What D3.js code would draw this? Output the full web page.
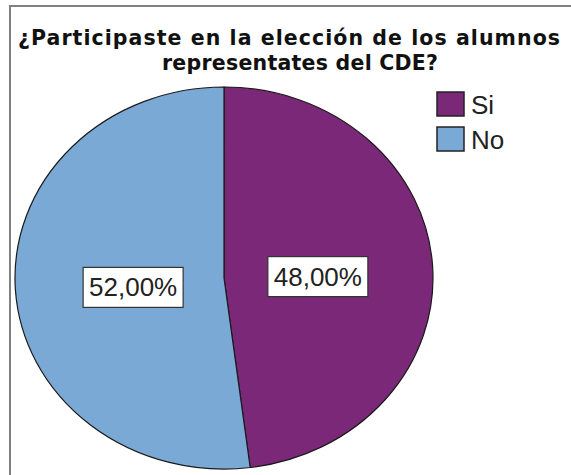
<!DOCTYPE html>
<html>
<head>
<meta charset="utf-8">
<script src="https://cdn.jsdelivr.net/npm/d3@7"></script>
<style>
  body { margin: 0; background: #fff; }
  svg { display: block; }
</style>
</head>
<body>
<svg width="571" height="475"></svg>
<script>
var categories = ['Si', 'No'],
    values = [48, 52],
    colors = ['#7b2878', '#7aa9d6'],
    titleLines = ['¿Participaste en la elección de los alumnos', 'representates del CDE?']

var svg = d3.select('svg'),
    width = 571,
    height = 475,
    cx = 224, cy = 278,
    ry = 191, rx = 209

// frame (only top and left visible, rest is cropped)
svg.append('path')
    .attr('d', `M10,${height} L10,6 L${width},6`)
    .attr('fill', 'none')
    .attr('stroke', '#808080')
    .attr('stroke-width', 2)

// title, letters are spread out in the original
var titleX = [18, 162], titleW = [542, 276]
svg.append('g').selectAll('text')
    .data(titleLines)
    .enter().append('text')
    .attr('x', (d, i) => titleX[i])
    .attr('y', (d, i) => 45 + i * 25)
    .attr('textLength', (d, i) => titleW[i])
    .attr('lengthAdjust', 'spacing')
    .style('font-family', 'DejaVu Sans')
    .style('font-weight', 'bold')
    .style('font-size', '20.5px')
    .style('fill', '#111')
    .text(d => d)

var data = categories.map((c, i) => ({ name: c, value: values[i], color: colors[i] }))

var pie = d3.pie().sort(null).value(d => d.value)
var arcs = pie(data)
var arc = d3.arc().innerRadius(0).outerRadius(ry)
var labelArc = d3.arc().innerRadius(0).outerRadius(ry * 0.9)
var total = d3.sum(values)

var pieG = svg.append('g')
    .attr('transform', `translate(${cx},${cy}) scale(${rx / ry},1)`)

pieG.selectAll('path')
    .data(arcs)
    .enter().append('path')
    .attr('d', arc)
    .attr('fill', d => d.data.color)
    .attr('stroke', '#1a1a1a')
    .attr('stroke-width', 1.2)
    .attr('vector-effect', 'non-scaling-stroke')

// percentage labels
var fmt = v => (v / total * 100).toFixed(2).replace('.', ',') + '%'
var lab = svg.append('g').selectAll('g')
    .data(arcs)
    .enter().append('g')
    .attr('transform', d => {
        var c = labelArc.centroid(d)
        return `translate(${cx + c[0] * rx / ry + (c[0] < 0 ? 3 : 0)},${cy + c[1] + 4})`
    })
lab.append('rect')
    .attr('x', -50).attr('y', -20)
    .attr('width', 100).attr('height', 40)
    .attr('fill', '#fff')
    .attr('stroke', '#333')
    .attr('stroke-width', 1.2)
lab.append('text')
    .attr('text-anchor', 'middle')
    .attr('y', 9)
    .style('font-family', 'Liberation Sans, Arial')
    .style('font-size', '26px')
    .style('fill', '#222')
    .text(d => fmt(d.data.value))

// legend
var leg = svg.append('g').selectAll('g')
    .data(data)
    .enter().append('g')
    .attr('transform', (d, i) => `translate(437,${92 + i * 35})`)
leg.append('rect')
    .attr('width', 27).attr('height', 24)
    .attr('fill', d => d.color)
    .attr('stroke', '#222')
    .attr('stroke-width', 1.5)
leg.append('text')
    .attr('x', 34)
    .attr('y', 22)
    .style('font-family', 'Liberation Sans, Arial')
    .style('font-size', '26px')
    .style('fill', '#222')
    .text(d => d.name)
</script>
</body>
</html>
